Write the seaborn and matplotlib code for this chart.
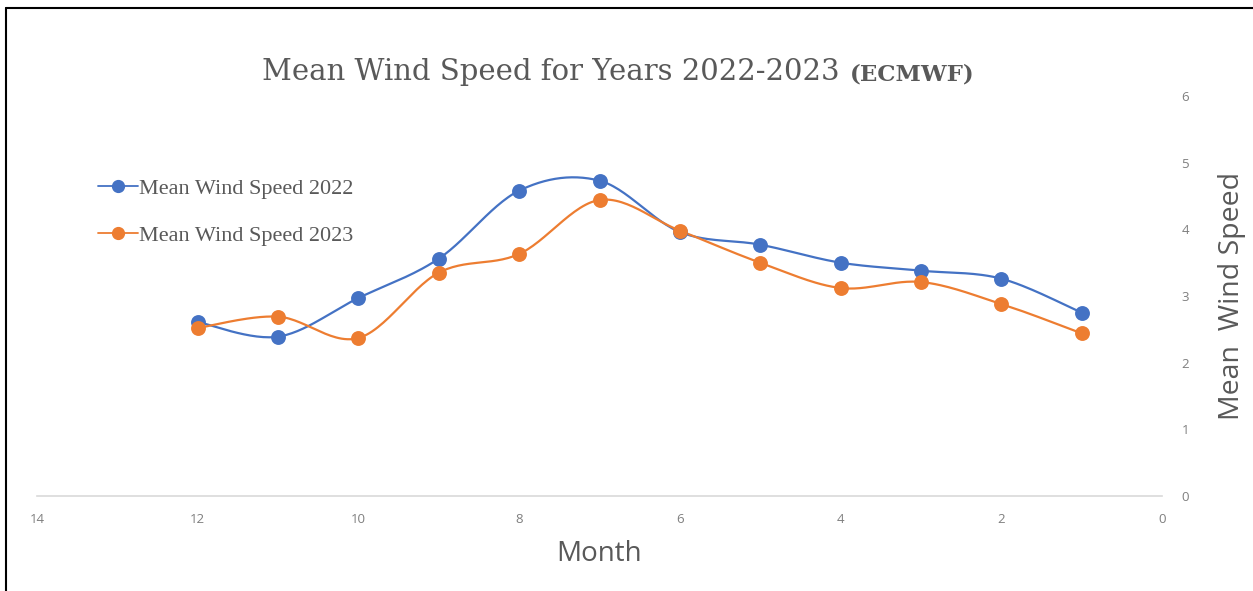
import numpy as np
import pandas as pd
import matplotlib.pyplot as plt
from matplotlib.lines import Line2D
import seaborn as sns

months = [12, 11, 10, 9, 8, 7, 6, 5, 4, 3, 2, 1]
wind_2022 = [2.61, 2.39, 2.97, 3.56, 4.58, 4.73, 3.96, 3.77, 3.50, 3.38, 3.26, 2.75]
wind_2023 = [2.52, 2.69, 2.37, 3.35, 3.63, 4.44, 3.98, 3.50, 3.12, 3.21, 2.88, 2.44]
series_names = ["Mean Wind Speed 2022", "Mean Wind Speed 2023"]
colors = ["#4472C4", "#ED7D31"]
x_ticks = [14, 12, 10, 8, 6, 4, 2, 0]
y_ticks = [0, 1, 2, 3, 4, 5, 6]


def smooth(xs, ys, n=30):
    # Catmull-Rom curve through the points, like the spreadsheet "smoothed line"
    p = np.column_stack([xs, ys]).astype(float)
    p = np.vstack([p[0], p, p[-1]])
    out = []
    t = np.linspace(0, 1, n)[:, None]
    for i in range(1, len(p) - 2):
        p0, p1, p2, p3 = p[i - 1], p[i], p[i + 1], p[i + 2]
        seg = 0.5 * ((2 * p1) + (-p0 + p2) * t
                     + (2 * p0 - 5 * p1 + 4 * p2 - p3) * t ** 2
                     + (-p0 + 3 * p1 - 3 * p2 + p3) * t ** 3)
        out.append(seg)
    out = np.vstack(out)
    return out[:, 0], out[:, 1]


sns.set_theme(style="white")
fig = plt.figure(figsize=(12.53, 5.91), dpi=100)
ax = fig.add_axes([37 / 1253, 95 / 591, (1162 - 37) / 1253, 400 / 591])

for name, vals, c in zip(series_names, [wind_2022, wind_2023], colors):
    sx, sy = smooth(months, vals)
    curve = pd.DataFrame({"x": sx, "y": sy})
    sns.lineplot(data=curve, x="x", y="y", sort=False, estimator=None,
                 color=c, linewidth=1.6, ax=ax, legend=False)
    pts = pd.DataFrame({"Month": months, "Speed": vals})
    sns.scatterplot(data=pts, x="Month", y="Speed", color=c, s=115,
                    edgecolor=c, linewidth=0, ax=ax, legend=False, zorder=3)

ax.set_xlim(14, 0)
ax.set_ylim(0, 6)
ax.set_xticks(x_ticks)
ax.set_yticks(y_ticks)
ax.yaxis.tick_right()
ax.yaxis.set_label_position("right")
for s in ["top", "left", "right"]:
    ax.spines[s].set_visible(False)
ax.spines["bottom"].set_color("#d9d9d9")
ax.spines["bottom"].set_linewidth(1.2)
ax.tick_params(axis="both", length=0, labelsize=9.5, labelcolor="#7f7f7f",
               pad=12)
ax.tick_params(axis="y", pad=14)
for lab in ax.get_xticklabels() + ax.get_yticklabels():
    lab.set_family("Open Sans")

ax.set_xlabel("Month", fontsize=20, color="#595959", family="Open Sans",
              labelpad=10)
ax.set_ylabel("Mean  Wind Speed", fontsize=20.5, color="#595959",
              family="Open Sans", labelpad=21)

fig.text(262 / 1253, 1 - 72 / 591, "Mean Wind Speed for Years 2022-2023",
         fontsize=21, color="#595959", family="DejaVu Serif", va="center")
fig.text(850 / 1253, 1 - 74 / 591, "(ECMWF)", fontsize=16.5,
         color="#595959", family="DejaVu Serif", va="center",
         fontweight="bold")

handles = [Line2D([0], [0], color=c, lw=1.3, marker="o", markersize=8.5)
           for c in colors]
leg = fig.legend(handles, series_names, loc="upper left",
                 bbox_to_anchor=(78 / 1253, 1 - 158 / 591), frameon=False,
                 handlelength=1.8, handletextpad=0.05, labelspacing=1.2,
                 prop={"family": "Liberation Serif", "size": 16})
for t in leg.get_texts():
    t.set_color("#595959")

# frame of the original picture
fig.add_artist(Line2D([6 / 1253, 6 / 1253], [0, 1 - 8 / 591], color="black",
                      lw=1.5, transform=fig.transFigure))
fig.add_artist(Line2D([6 / 1253, 1], [1 - 8 / 591, 1 - 8 / 591],
                      color="black", lw=1.5, transform=fig.transFigure))

fig.savefig("out.png", dpi=100)
